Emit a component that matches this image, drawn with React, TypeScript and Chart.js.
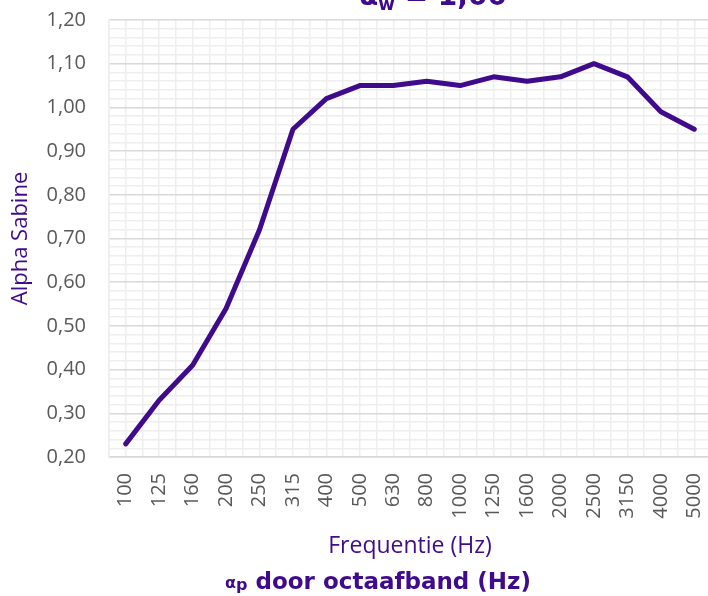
import React, { useEffect, useRef } from "react";
import { Chart, registerables } from "chart.js";

Chart.register(...registerables);

const categories = ["100", "125", "160", "200", "250", "315", "400", "500", "630", "800", "1000", "1250", "1600", "2000", "2500", "3150", "4000", "5000"];
const alphaValues = [0.23, 0.33, 0.41, 0.54, 0.72, 0.95, 1.02, 1.05, 1.05, 1.06, 1.05, 1.07, 1.06, 1.07, 1.10, 1.07, 0.99, 0.95];
const titleMain = "α";
const titleSub = "w";
const titleRest = " = 1,00";
const yTitle = "Alpha Sabine";
const xTitle = "Frequentie (Hz)";
const bottomPrefix = "αp";
const bottomRest = " door octaafband (Hz)";

const PURPLE = "#3f0a8c";
const W = 720;
const H = 596;
const BOLD = "'DejaVu Sans', 'Noto Sans', sans-serif";

const textPlugin = {
  id: "extraTexts",
  afterDraw(chart: any) {
    const ctx = chart.ctx;
    ctx.save();
    ctx.fillStyle = PURPLE;
    ctx.textBaseline = "alphabetic";
    ctx.textAlign = "left";
    // top title (partially cut off)
    const bigFont = `bold 28px ${BOLD}`;
    const subFont = `bold 18px ${BOLD}`;
    ctx.font = bigFont;
    const w1 = ctx.measureText(titleMain).width;
    const w3 = ctx.measureText(titleRest).width;
    ctx.font = subFont;
    const w2 = ctx.measureText(titleSub).width;
    let x = 433 - (w1 + w2 + w3) / 2;
    const base = 5;
    ctx.font = bigFont;
    ctx.fillText(titleMain, x, base);
    x += w1;
    ctx.font = subFont;
    ctx.fillText(titleSub, x, base + 5);
    x += w2;
    ctx.font = bigFont;
    ctx.fillText(titleRest, x, base);

    // bottom line
    const smallFont = `bold 16px ${BOLD}`;
    const boldFont = `bold 23px ${BOLD}`;
    ctx.font = smallFont;
    const wa = ctx.measureText("α").width;
    const wp = ctx.measureText("p").width;
    ctx.font = boldFont;
    const wr = ctx.measureText(bottomRest).width;
    let bx = 378 - (wa + wp + wr) / 2;
    const by = 589;
    ctx.font = smallFont;
    ctx.fillText(bottomPrefix[0], bx, by - 1);
    bx += wa;
    ctx.fillText(bottomPrefix[1], bx, by + 1);
    bx += wp;
    ctx.font = boldFont;
    ctx.fillText(bottomRest, bx, by);
    ctx.restore();
  },
};

export default function App() {
  const ref = useRef<HTMLCanvasElement | null>(null);
  useEffect(() => {
    if (!ref.current) return;
    const chart = new Chart(ref.current, {
      type: "line",
      data: {
        datasets: [
          {
            data: alphaValues.map((v, i) => ({ x: i, y: v })),
            borderColor: PURPLE,
            borderWidth: 5,
            pointRadius: 0,
            borderCapStyle: "round",
            borderJoinStyle: "round",
            tension: 0,
          },
        ],
      },
      options: {
        responsive: false,
        animation: false,
        devicePixelRatio: 1,
        layout: { padding: { top: 20, right: 9, left: 0, bottom: 0 } },
        plugins: {
          legend: { display: false },
          tooltip: { enabled: false },
          title: { display: false },
        },
        scales: {
          x: {
            type: "linear",
            min: -0.5,
            max: 17.5,
            afterFit(scale: any) {
              scale.height = H - 457;
              scale.paddingLeft = 0;
              scale.paddingRight = 0;
            },
            afterBuildTicks(scale: any) {
              const t = [];
              for (let i = -1; i <= 35; i++) t.push({ value: i / 2 });
              scale.ticks = t;
            },
            ticks: {
              autoSkip: false,
              minRotation: 90,
              maxRotation: 90,
              padding: 16,
              color: "#595959",
              font: { family: "'Open Sans', sans-serif", size: 20 },
              callback: (v: any) => {
                const n = Number(v);
                return Number.isInteger(n) && n >= 0 && n < categories.length ? categories[n] : "";
              },
            },
            grid: {
              color: "#eeeeee",
              lineWidth: 1.5,
              drawTicks: false,
            },
            border: { color: "#d9d9d9", width: 1.5 },
            title: {
              display: true,
              text: xTitle,
              color: PURPLE,
              font: { family: "'Open Sans', sans-serif", size: 23 },
              padding: { top: 0, bottom: 36 },
            },
          },
          y: {
            min: 0.2,
            max: 1.2,
            afterFit(scale: any) {
              scale.width = 109;
              scale.paddingTop = 0;
              scale.paddingBottom = 0;
            },
            afterBuildTicks(scale: any) {
              const t = [];
              for (let i = 10; i <= 60; i++) t.push({ value: i / 50 });
              scale.ticks = t;
            },
            ticks: {
              autoSkip: false,
              padding: 23,
              color: "#595959",
              font: { family: "'Open Sans', sans-serif", size: 20 },
              callback: (v: any) => {
                const n = Math.round(Number(v) * 100);
                return n % 10 === 0 ? (n / 100).toFixed(2).replace(".", ",") : "";
              },
            },
            grid: {
              drawTicks: false,
              lineWidth: 1.5,
              color: (c: any) => {
                const n = Math.round(Number(c.tick?.value) * 100);
                return n % 10 === 0 ? "#d9d9d9" : "#eeeeee";
              },
            },
            border: { color: "#eeeeee", width: 1.5 },
            title: {
              display: true,
              text: yTitle,
              color: PURPLE,
              font: { family: "'Open Sans', sans-serif", size: 22 },
              padding: { top: 8, bottom: 0 },
            },
          },
        },
      },
      plugins: [textPlugin],
    } as any);
    return () => chart.destroy();
  }, []);
  return (
    <div style={{ position: "absolute", left: 0, top: 0, width: 708, height: H, overflow: "hidden" }}>
      <canvas ref={ref} width={W} height={H} style={{ display: "block", width: W, height: H }} />
    </div>
  );
}
